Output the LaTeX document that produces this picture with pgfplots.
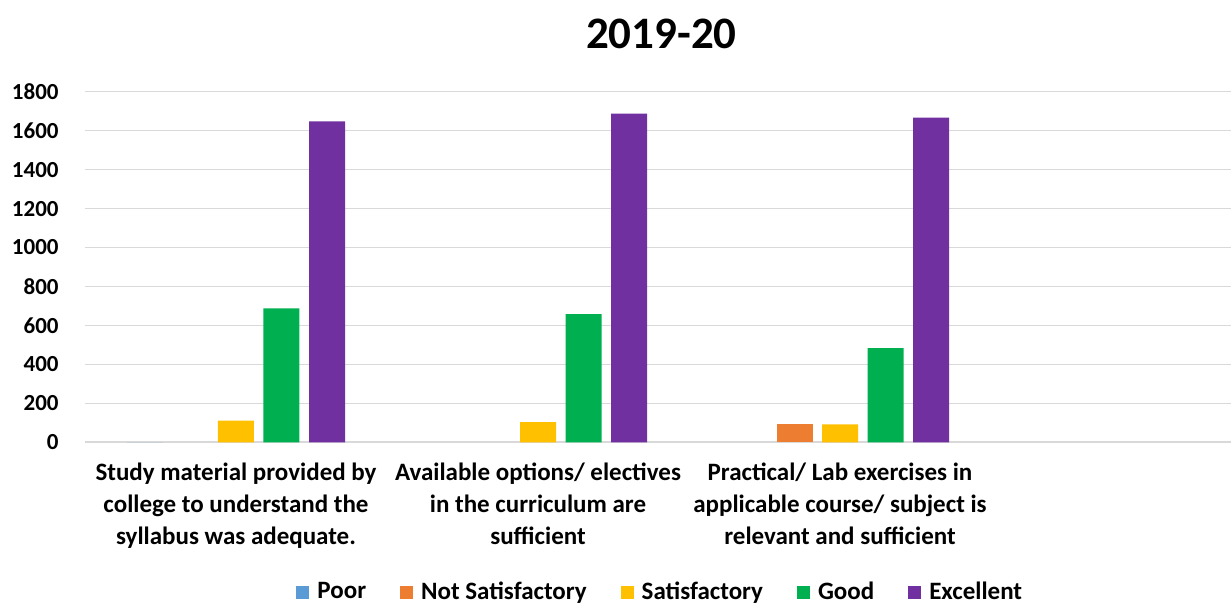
\documentclass[border=0pt]{standalone}
\usepackage{pgfplots}
\pgfplotsset{compat=1.18}
\usepackage{fontspec}
\setmainfont{Carlito}
\definecolor{cPoor}{HTML}{5B9BD5}
\definecolor{cNS}{HTML}{ED7D31}
\definecolor{cSat}{HTML}{FFC000}
\definecolor{cGood}{HTML}{00B050}
\definecolor{cExc}{HTML}{7030A0}
\definecolor{gridc}{HTML}{D9D9D9}
\begin{document}
\begin{tikzpicture}
\useasboundingbox (-42.5pt,-80.85pt) rectangle (573pt,221.15pt);
\begin{axis}[
  at={(0,0)}, anchor=south west,
  scale only axis, width=572.5pt, height=175.3pt,
  ybar=4.75pt, bar width=18pt,
  xmin=-0.5, xmax=3.3167, ymin=0, ymax=1800,
  xtick={0,1,2},
  xticklabels={{Study material provided by\\college to understand the\\syllabus was adequate.},
               {Available options/ electives\\in the curriculum are\\sufficient},
               {Practical/ Lab exercises in\\applicable course/ subject is\\relevant and sufficient}},
  ytick={0,200,...,1800},
  /pgf/number format/1000 sep={},
  ymajorgrids, grid style={gridc, line width=0.8pt},
  axis line style={draw=none},
  major tick length=0pt,
  /pgf/number format/assume math mode=true,
  yticklabel style={font=\fontsize{11.5}{13}\selectfont\bfseries, anchor=east, inner sep=0pt, xshift=-13pt},
  xticklabel style={font=\fontsize{12.5}{16}\selectfont\bfseries, align=center, anchor=north, inner sep=0pt, yshift=-10pt},
  title={2019-20},
  title style={font=\fontsize{22.5}{26}\selectfont\bfseries, at={(0.5,1)}, anchor=center, yshift=23pt},
  legend columns=-1,
  legend style={draw=none, at={(0.5,0)}, anchor=center, yshift=-74.85pt,
    font=\fontsize{12.5}{14}\selectfont\bfseries,
    /tikz/every odd column/.append style={column sep=2pt},
    /tikz/every even column/.append style={column sep=15pt}},
  legend image code/.code={\fill[#1] (0pt,-3.25pt) rectangle (6.5pt,3.25pt);},
]
\addplot[fill=cPoor, draw=none] coordinates {(0,0)};
\addplot[fill=cNS, draw=none] coordinates {(2,92)};
\addplot[fill=cSat, draw=none] coordinates {(0,111) (1,103) (2,92)};
\addplot[fill=cGood, draw=none] coordinates {(0,687) (1,658) (2,484)};
\addplot[fill=cExc, draw=none] coordinates {(0,1647) (1,1688) (2,1667)};
\legend{Poor, Not Satisfactory, Satisfactory, Good, Excellent}
\end{axis}
\end{tikzpicture}
\end{document}
